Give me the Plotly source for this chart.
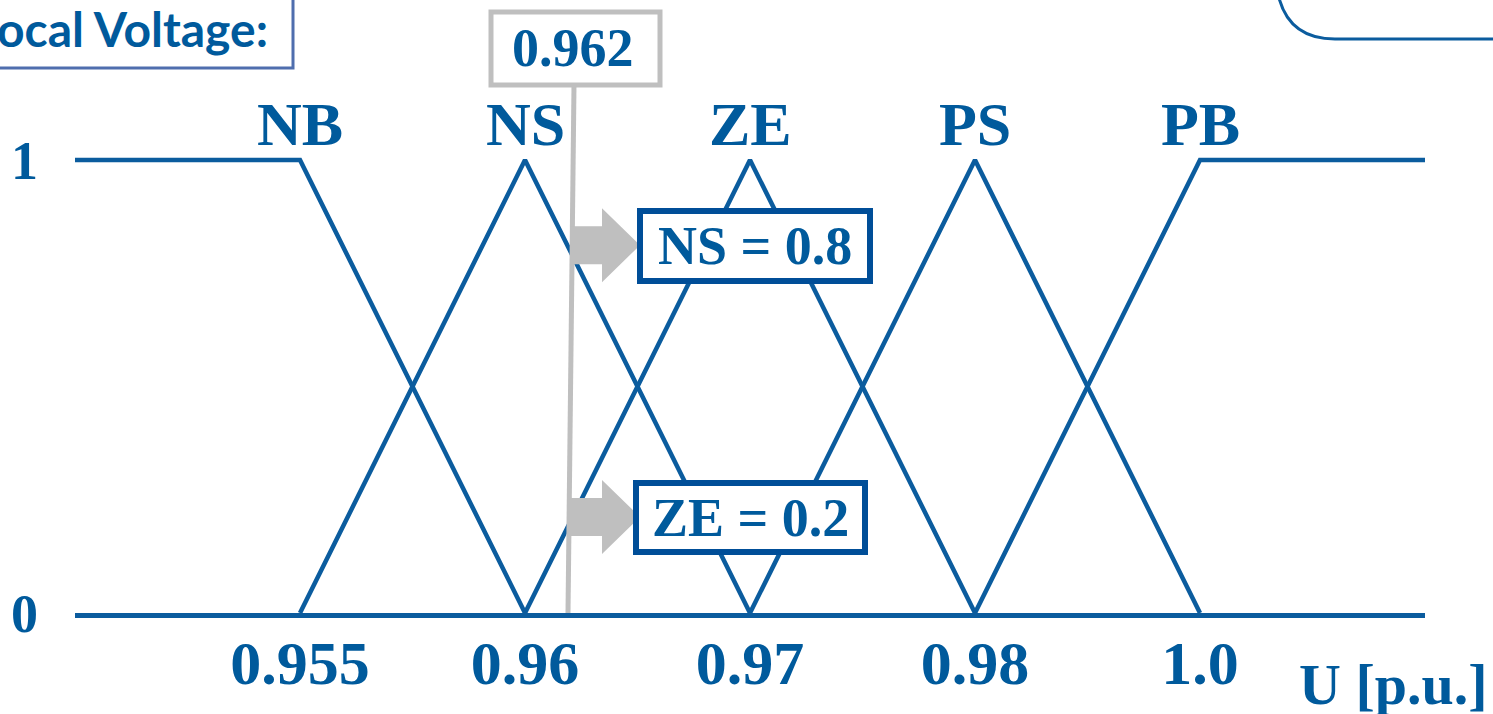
import plotly.graph_objects as go

# ---- data ----
tick_labels = ["0.955", "0.96", "0.97", "0.98", "1.0"]
tick_pos = [0, 1, 2, 3, 4]
sets = ["NB", "NS", "ZE", "PS", "PB"]
set_x = {
    "NB": [-1, 0, 1],
    "NS": [0, 1, 2],
    "ZE": [1, 2, 3],
    "PS": [2, 3, 4],
    "PB": [3, 4, 5],
}
set_y = {
    "NB": [1, 1, 0],
    "NS": [0, 1, 0],
    "ZE": [0, 1, 0],
    "PS": [0, 1, 0],
    "PB": [0, 1, 1],
}
input_label = "0.962"
input_pos = 1.2
memberships = [("NS", 0.8), ("ZE", 0.2)]

W, H = 1493, 714
L, R, T, B = 75, 68, 0, 101
X0, X1 = -1, 5
Y0, Y1 = 0, (H - B - T) / 453.0

BLUE = "#0B5C9E"
TXT = "#005A9C"
BOX = "#004E98"
GRAY = "#BFBFBF"
SERIF = "Liberation Serif"

def px(p):
    return (p - L) / (W - L - R)

def py(q):
    return (H - B - q) / (H - B - T)

fig = go.Figure()
for s in sets:
    fig.add_trace(go.Scatter(x=set_x[s], y=set_y[s], mode="lines",
                             line=dict(color=BLUE, width=4.5), hoverinfo="skip",
                             showlegend=False, cliponaxis=False))

shapes = []
annotations = []

# set labels
for i, s in enumerate(sets):
    annotations.append(dict(x=tick_pos[i], y=1, xref="x", yref="y", text="<b>%s</b>" % s,
                            showarrow=False, xanchor="center", yanchor="bottom", yshift=0,
                            font=dict(family=SERIF, size=62, color=TXT)))

# input vertical line
ux = 1.0 / 225
uy = 1.0 / 453
shapes.append(dict(type="line", xref="x", yref="y", x0=input_pos - 2 * ux, y0=0,
                   x1=input_pos + 4 * ux, y1=py(85) * Y1, line=dict(color=GRAY, width=5)))
# input label box
shapes.append(dict(type="rect", xref="paper", yref="paper", x0=px(491), x1=px(660),
                   y0=py(85), y1=py(12), line=dict(color=GRAY, width=5), fillcolor="white"))
annotations.append(dict(x=px(573), y=py(48), xref="paper", yref="paper",
                        text="<b>%s</b>" % input_label, showarrow=False,
                        xanchor="center", yanchor="middle",
                        font=dict(family=SERIF, size=54, color=TXT)))

# membership arrows + boxes
box_px = {"NS": (640, 870, 211, 281), "ZE": (636, 865, 483, 552)}
for name, val in memberships:
    yc = val + 0.012
    xs = input_pos
    xb = xs + 32 * ux
    xt = xs + 70 * ux
    sh = 19 * uy
    hh = 37 * uy
    path = ("M {a},{b} L {c},{b} L {c},{d} L {e},{f} L {c},{g} L {c},{h} L {a},{h} Z"
            .format(a=xs, b=yc + sh, c=xb, d=yc + hh, e=xt, f=yc, g=yc - hh, h=yc - sh))
    shapes.append(dict(type="path", xref="x", yref="y", path=path,
                       fillcolor=GRAY, line=dict(width=0)))
    x0, x1, y0, y1 = box_px[name]
    shapes.append(dict(type="rect", xref="paper", yref="paper", x0=px(x0), x1=px(x1),
                       y0=py(y1), y1=py(y0), line=dict(color=BOX, width=6), fillcolor="white"))
    annotations.append(dict(x=px((x0 + x1) / 2), y=py((y0 + y1) / 2), xref="paper", yref="paper",
                            text="<b>%s = %s</b>" % (name, val), showarrow=False,
                            xanchor="center", yanchor="middle",
                            font=dict(family=SERIF, size=54, color=TXT)))

# header box (cropped)
shapes.append(dict(type="rect", xref="paper", yref="paper", x0=px(-20), x1=px(293),
                   y0=py(68), y1=py(-20), line=dict(color="#4F6EAE", width=3), fillcolor="white",
                   layer="below"))
annotations.append(dict(x=px(270), y=py(28), xref="paper", yref="paper", text="<b>ocal Voltage:</b>",
                        showarrow=False, xanchor="right", yanchor="middle",
                        font=dict(family="Lato", size=48, color=TXT)))

# top-right rounded frame
shapes.append(dict(type="path", xref="paper", yref="paper",
                   path="M {a},{b} Q {c},{d} {e},{d} L {f},{d}".format(
                       a=px(1279), b=py(-2), c=px(1290), d=py(39), e=px(1335), f=px(1500)),
                   line=dict(color=BLUE, width=3)))

# axis unit
annotations.append(dict(x=px(1490), y=py(684), xref="paper", yref="paper", text="<b>U [p.u.]</b>",
                        showarrow=False, xanchor="right", yanchor="middle",
                        font=dict(family=SERIF, size=58, color=TXT)))

fig.update_layout(
    width=W, height=H, margin=dict(l=L, r=R, t=T, b=B),
    paper_bgcolor="white", plot_bgcolor="white",
    shapes=shapes, annotations=annotations,
    xaxis=dict(range=[X0, X1], showgrid=False, zeroline=False, showline=True,
               linecolor=BLUE, linewidth=5, tickvals=tick_pos, ticktext=["<b>%s</b>" % t for t in tick_labels],
               ticks="", ticklabelstandoff=-8,
               tickfont=dict(family=SERIF, size=62, color=TXT), fixedrange=True),
    yaxis=dict(range=[Y0, Y1], showgrid=False, zeroline=False, showline=False,
               tickvals=[0, 1], ticktext=["<b>0</b>", "<b>1</b>"], ticks="", ticklabelstandoff=36,
               tickfont=dict(family=SERIF, size=54, color=TXT), fixedrange=True),
    showlegend=False,
)

fig.write_html("out.html", config={"displayModeBar": False},
               post_script="document.body.style.margin='0px';")
